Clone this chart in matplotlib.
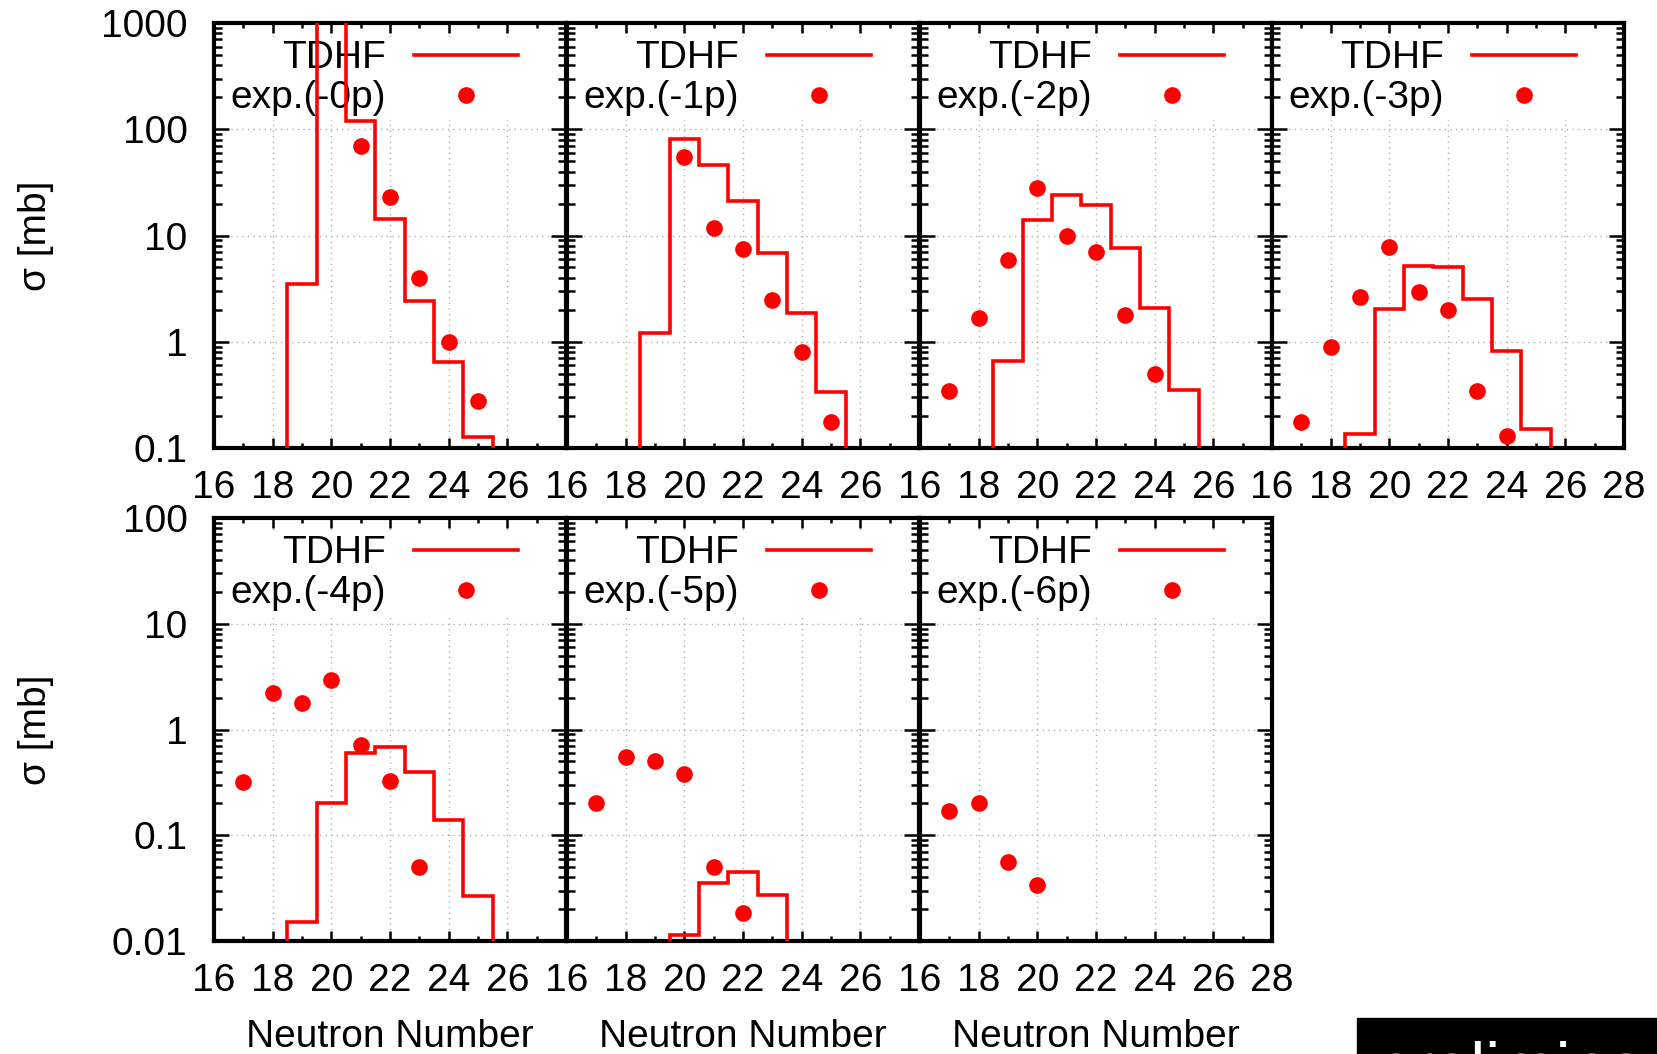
import numpy as np
import matplotlib.pyplot as plt
from matplotlib.patches import Rectangle
from matplotlib.ticker import LogLocator, NullFormatter, FuncFormatter, MultipleLocator

plt.rcParams['font.family'] = ['Liberation Sans', 'DejaVu Sans']

# TDHF histogram bins (neutron number) and cross sections [mb]
tdhf_n_0p = [19, 20, 21, 22, 23, 24, 25]
tdhf_0p = [3.5, 3000, 119, 14.4, 2.42, 0.644, 0.127]
tdhf_n_1p = [19, 20, 21, 22, 23, 24, 25]
tdhf_1p = [1.21, 81, 46, 21.0, 6.85, 1.85, 0.335]
tdhf_n_2p = [19, 20, 21, 22, 23, 24, 25]
tdhf_2p = [0.653, 13.9, 24.3, 19.2, 7.64, 2.06, 0.352]
tdhf_n_3p = [19, 20, 21, 22, 23, 24, 25]
tdhf_3p = [0.135, 2.02, 5.2, 5.1, 2.55, 0.813, 0.152]
tdhf_n_4p = [19, 20, 21, 22, 23, 24, 25]
tdhf_4p = [0.015, 0.2, 0.593, 0.682, 0.398, 0.139, 0.0267]
tdhf_n_5p = [20, 21, 22, 23]
tdhf_5p = [0.0113, 0.0357, 0.0447, 0.0271]
tdhf_n_6p = []
tdhf_6p = []

# experimental points
exp_n_0p = [21, 22, 23, 24, 25]
exp_0p = [69, 22.9, 3.98, 1.0, 0.277]
exp_n_1p = [20, 21, 22, 23, 24, 25]
exp_1p = [54.5, 11.8, 7.47, 2.49, 0.795, 0.176]
exp_n_2p = [17, 18, 19, 20, 21, 22, 23, 24]
exp_2p = [0.344, 1.68, 5.92, 27.7, 10.0, 6.95, 1.78, 0.496]
exp_n_3p = [17, 18, 19, 20, 21, 22, 23, 24]
exp_3p = [0.176, 0.887, 2.66, 7.87, 2.97, 1.97, 0.344, 0.129]
exp_n_4p = [17, 18, 19, 20, 21, 22, 23]
exp_4p = [0.319, 2.19, 1.79, 2.97, 0.708, 0.324, 0.0505]
exp_n_5p = [17, 18, 19, 20, 21, 22]
exp_5p = [0.201, 0.545, 0.501, 0.380, 0.0505, 0.0185]
exp_n_6p = [17, 18, 19, 20]
exp_6p = [0.171, 0.201, 0.0554, 0.0336]

exp_labels = ['exp.(-0p)', 'exp.(-1p)', 'exp.(-2p)', 'exp.(-3p)',
              'exp.(-4p)', 'exp.(-5p)', 'exp.(-6p)']
top_yticks = [0.1, 1, 10, 100, 1000]
bottom_yticks = [0.01, 0.1, 1, 10, 100]
xticks = [16, 18, 20, 22, 24, 26, 28]

panels = [
    (tdhf_n_0p, tdhf_0p, exp_n_0p, exp_0p),
    (tdhf_n_1p, tdhf_1p, exp_n_1p, exp_1p),
    (tdhf_n_2p, tdhf_2p, exp_n_2p, exp_2p),
    (tdhf_n_3p, tdhf_3p, exp_n_3p, exp_3p),
    (tdhf_n_4p, tdhf_4p, exp_n_4p, exp_4p),
    (tdhf_n_5p, tdhf_5p, exp_n_5p, exp_5p),
    (tdhf_n_6p, tdhf_6p, exp_n_6p, exp_6p),
]

W, H = 1658, 1054
fig = plt.figure(figsize=(W / 100, H / 100), dpi=100)

lefts = [214, 567, 920, 1272]
pw = 352
rows = [(23, 448), (518, 941)]
fs = 28

for i, (tn, tv, en, ev) in enumerate(panels):
    row = 0 if i < 4 else 1
    col = i if i < 4 else i - 4
    top, bot = rows[row]
    ax = fig.add_axes([lefts[col] / W, 1 - bot / H, pw / W, (bot - top) / H])
    ax.set_yscale('log')

    if len(tn) > 0:
        tn = np.array(tn, dtype=float)
        edges = np.append(tn - 0.5, tn[-1] + 0.5)
        ax.stairs(tv, edges, baseline=1e-6, color='red', lw=2.6, zorder=2.6, label='TDHF')
    else:
        ax.plot([], [], color='red', lw=2.6, label='TDHF')
    ax.plot(en, ev, 'o', color='red', ms=12, mec='none', zorder=3, label=exp_labels[i])

    yt = top_yticks if row == 0 else bottom_yticks
    ax.set_xlim(16, 28)
    ax.set_ylim(yt[0], yt[-1])
    ax.set_yticks(yt)
    ax.yaxis.set_major_formatter(FuncFormatter(lambda v, p: '%g' % v))
    ax.yaxis.set_minor_locator(LogLocator(base=10, subs=np.arange(2, 10)))
    ax.yaxis.set_minor_formatter(NullFormatter())
    ax.set_xticks(xticks)
    last = (i == 3) or (i == 6)
    ax.set_xticklabels([str(t) if (t < 28 or last) else '' for t in xticks])
    ax.xaxis.set_minor_locator(MultipleLocator(1))

    ax.tick_params(which='both', direction='in', top=True, right=True, width=1.8,
                   labelsize=fs)
    ax.tick_params(axis='x', which='major', length=7, pad=16)
    ax.tick_params(axis='x', which='minor', length=3.5)
    ax.tick_params(axis='y', which='major', length=11, pad=19)
    ax.tick_params(axis='y', which='minor', length=6)
    if col != 0:
        ax.tick_params(labelleft=False)
    for s in ax.spines.values():
        s.set_linewidth(3)

    ax.grid(True, which='major', color='#b0b0b0', linestyle=(0, (1, 3)), lw=1)

    leg = ax.legend(loc='upper right', bbox_to_anchor=(0.875, 0.968), borderaxespad=0,
                    borderpad=0.1, markerfirst=False, handlelength=2.67,
                    handletextpad=0.72, labelspacing=0.1, fancybox=False,
                    edgecolor='none', facecolor='white', framealpha=1,
                    fontsize=fs, numpoints=1)
    leg.set_zorder(1.8)

    if row == 1:
        ax.set_xlabel('Neutron Number', fontsize=fs, labelpad=14)

for top, bot in rows:
    fig.text(36 / W, 1 - (top + bot) / 2 / H, 'σ [mb]', rotation=90,
             ha='center', va='center', fontsize=fs)

fig.patches.append(Rectangle((1357 / W, 0), 1 - 1357 / W, 1 - 1018 / H,
                             transform=fig.transFigure, color='black'))
fig.text(1375 / W, 1 - 1089 / H, 'preliminary', color='white', fontsize=48,
         va='baseline')

fig.savefig('out.png', dpi=100)
